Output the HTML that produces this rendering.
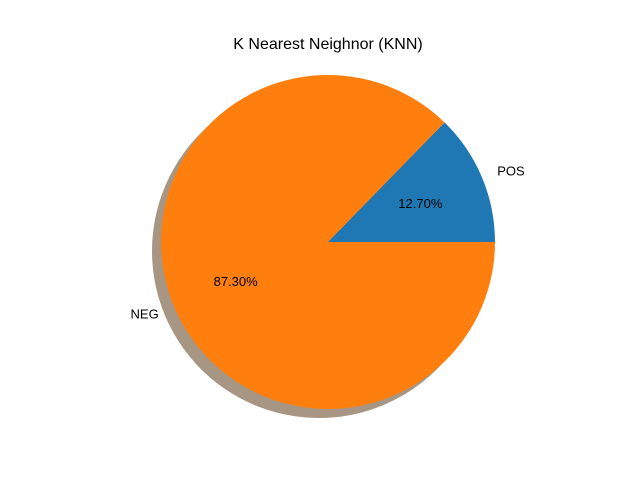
<!DOCTYPE html>
<html><head><meta charset="utf-8"><style>
html,body{margin:0;padding:0;background:#fff;}
svg text{font-family:"Liberation Sans","DejaVu Sans",sans-serif;}
</style></head><body>
<svg id="chart" width="640" height="480" viewBox="0 0 640 480">
<rect width="640" height="480" fill="#fff"/>
<text x="328" y="49" text-anchor="middle" font-size="16" fill="#000">K Nearest Neighnor (KNN)</text>
<g id="shadowg"></g>
<g id="slices"></g>
<g id="labels"></g>
</svg>
<script>
const categories = ["POS", "NEG"];
const values = [12.7, 87.3];
const percentLabels = ["12.70%", "87.30%"];
const colors = ["#1f77b4", "#ff7f0e"];

const cx = 328, cy = 242, r = 167;
const NS = "http://www.w3.org/2000/svg";
const total = values.reduce((a, b) => a + b, 0);
function pt(angDeg, rad, ox, oy) {
  const a = angDeg * Math.PI / 180;
  return [ox + rad * Math.cos(a), oy - rad * Math.sin(a)];
}
function arcPath(a0, a1, ox, oy) {
  const p0 = pt(a0, r, ox, oy), p1 = pt(a1, r, ox, oy);
  const large = (a1 - a0) > 180 ? 1 : 0;
  return `M${ox},${oy} L${p0[0]},${p0[1]} A${r},${r} 0 ${large} 0 ${p1[0]},${p1[1]} Z`;
}
const sg = document.getElementById('shadowg');
const sl = document.getElementById('slices');
const lg = document.getElementById('labels');
let start = 0;
values.forEach((v, i) => {
  const sweep = v / total * 360;
  const end = start + sweep;
  const sh = document.createElementNS(NS, 'path');
  sh.setAttribute('d', arcPath(start, end, cx - 9, cy + 9));
  sh.setAttribute('fill', '#a79684');
  
  
  sg.appendChild(sh);
  const p = document.createElementNS(NS, 'path');
  p.setAttribute('d', arcPath(start, end, cx, cy));
  p.setAttribute('fill', colors[i]);
  
  
  sl.appendChild(p);
  const mid = start + sweep / 2;
  const lp = pt(mid, r * 1.1, cx, cy);
  const t = document.createElementNS(NS, 'text');
  t.setAttribute('x', lp[0]);
  t.setAttribute('y', lp[1] + 5);
  t.setAttribute('font-size', '13');
  t.setAttribute('text-anchor', Math.cos(mid * Math.PI / 180) >= 0 ? 'start' : 'end');
  t.textContent = categories[i];
  
  
  lg.appendChild(t);
  const pp = pt(mid, r * 0.6, cx, cy);
  const t2 = document.createElementNS(NS, 'text');
  t2.setAttribute('x', pp[0]);
  t2.setAttribute('y', pp[1] + 5);
  t2.setAttribute('font-size', '13');
  t2.setAttribute('text-anchor', 'middle');
  t2.textContent = percentLabels[i];
  
  
  lg.appendChild(t2);
  start = end;
});
</script>
</body></html>
